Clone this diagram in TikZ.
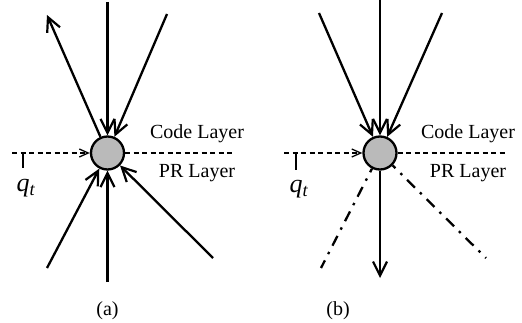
\documentclass[tikz,border=0pt]{standalone}
\usepackage{fontspec}
\setmainfont{Liberation Serif}
\usetikzlibrary{arrows.meta}
\begin{document}
\begin{tikzpicture}[x=1pt,y=-1pt,
  neuron/.style={circle,draw,line width=2.3pt,fill=black!27,minimum size=33pt,inner sep=0pt},
  conn/.style={line width=2.3pt},
  bigtip/.style={-{Straight Barb[length=14pt,width=14pt,line width=2.2pt]}},
  smalltip/.style={-{Straight Barb[length=9pt,width=8pt,line width=1.3pt]}},
  layer/.style={dash pattern=on 5pt off 3.5pt,line width=1.3pt},
  tick/.style={line width=1.5pt},
  dashdot/.style={line width=2.3pt,dash pattern=on 4pt off 7pt on 2.5pt off 7pt on 9pt off 0pt,
    dash pattern=on 11pt off 7pt on 2.5pt off 7pt, dash phase=7pt},
  lbl/.style={font=\fontsize{20}{24}\selectfont,inner sep=0pt},
  qlbl/.style={font=\fontsize{26}{30}\selectfont,inner sep=0pt}
]
\useasboundingbox (0,0) rectangle (522,323);
% ---------- panel (a)
\node[neuron] (ca) at (107.5,153) {};
\coordinate (aul) at (47,15);
\coordinate (aut) at (107.5,2);
\coordinate (aur) at (167,14);
\coordinate (abl) at (47,268);
\coordinate (abt) at (107.5,282);
\coordinate (abr) at (213,258);
\coordinate (aql) at (12,153);
\coordinate (atk) at (23,153);
\coordinate (atb) at (23,168);
\coordinate (adr) at (232,153);
\draw[conn,bigtip] (ca) -- (aul);
\draw[conn,bigtip] (aut) -- (ca);
\draw[conn,bigtip] (aur) -- (ca);
\draw[conn,bigtip] (abl) -- (ca);
\draw[conn,bigtip] (abt) -- (ca);
\draw[conn,bigtip] (abr) -- (ca);
\draw[layer,smalltip] (aql) -- (ca.west);
\draw[tick] (atk) -- (atb);
\draw[layer] (ca.east) -- (adr);
\node[lbl] (acode) at (197,134) {Code Layer};
\node[lbl] (apr) at (197,173) {PR Layer};
\node[qlbl] (aq) at (26,188) {\textit{q}\textsubscript{\textit{t}}};
\node[lbl] (acap) at (107.5,311) {(a)};
% ---------- panel (b)
\node[neuron] (cb) at (380,153) {};
\coordinate (bul) at (319,13);
\coordinate (but) at (380,0);
\coordinate (bur) at (442,13);
\coordinate (bbl) at (321,268);
\coordinate (bbt) at (380,278);
\coordinate (bbr) at (486,258);
\coordinate (bql) at (284,153);
\coordinate (btk) at (296,153);
\coordinate (btb) at (296,170);
\coordinate (bdr) at (506,153);
\draw[conn,bigtip] (bul) -- (cb);
\draw[conn,bigtip] (but) -- (cb);
\draw[conn,bigtip] (bur) -- (cb);
\draw[conn,bigtip] (cb) -- (bbt);
\draw[dashdot] (cb) -- (bbl);
\draw[dashdot] (cb) -- (bbr);
\draw[layer,smalltip] (bql) -- (cb.west);
\draw[tick] (btk) -- (btb);
\draw[layer] (cb.east) -- (bdr);
\node[lbl] (bcode) at (468,134) {Code Layer};
\node[lbl] (bpr) at (468,173) {PR Layer};
\node[qlbl] (bq) at (299,189) {\textit{q}\textsubscript{\textit{t}}};
\node[lbl] (bcap) at (338,311) {(b)};
\end{tikzpicture}
\end{document}
